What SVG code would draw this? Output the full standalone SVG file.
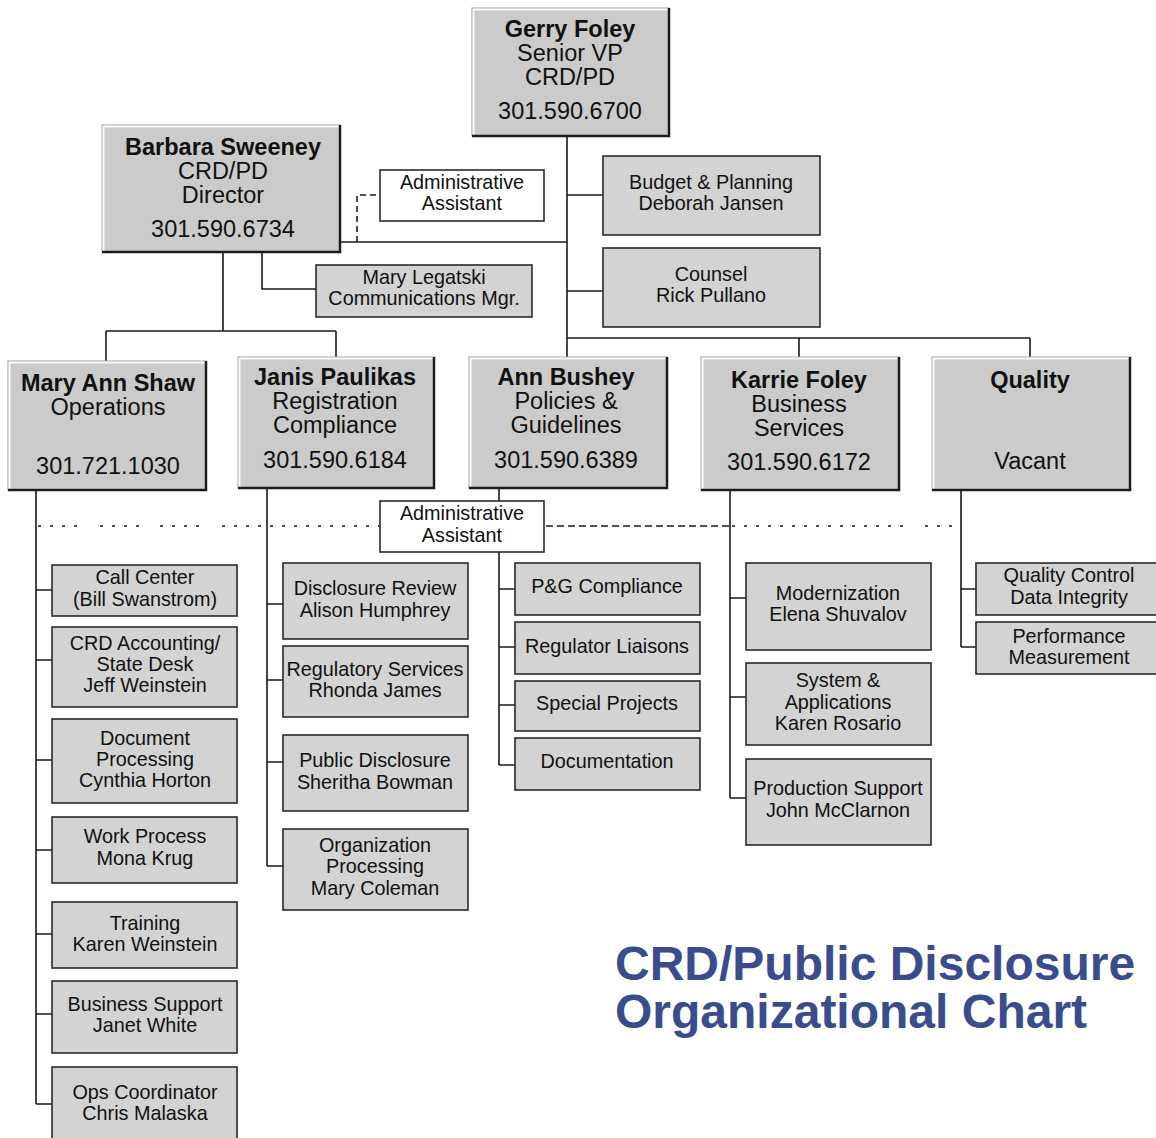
<svg xmlns="http://www.w3.org/2000/svg" width="1156" height="1138" viewBox="0 0 1156 1138">
<style>
text{font-family:"Liberation Sans",Arial,Helvetica,sans-serif;fill:#111;text-anchor:middle}
.t1{font-size:23.5px}
.b1{font-size:23.5px;font-weight:bold}
.t2{font-size:19.8px}
.bf{fill:#cbcbcb;stroke:#a0a0a0;stroke-width:1}
.hl{fill:none;stroke:#fafafa;stroke-width:2}
.sh{fill:none;stroke:#1c1c1c;stroke-width:2.5}
.sm{fill:#d3d3d3;stroke:#2a2a2a;stroke-width:1.6}
.wb{fill:#fff;stroke:#2a2a2a;stroke-width:1.6}
.ln{fill:none;stroke:#1a1a1a;stroke-width:1.6}
.ds{fill:none;stroke:#1a1a1a;stroke-width:1.6;stroke-dasharray:6 4}
.dt{fill:none;stroke:#1a1a1a;stroke-width:1.4;stroke-dasharray:3 9}
.dd{fill:none;stroke:#1a1a1a;stroke-width:1.6;stroke-dasharray:7 4}
.title{font-size:48px;font-weight:bold;fill:#3b4c8c;text-anchor:start}
</style>

<g id="connectors">
<path class="ln" d="M567 136V357M567 195H603M567 291H603M340 242H567M567 338H1030M799 338V357M1030 338V357"/>
<path class="ln" d="M223 252V331M106 331H336M106 331V361M336 331V357M262 252V289H316"/>
<path class="ds" d="M357 242V195H380"/>
<path class="ln" d="M36 490V1104M36 590H52M36 660H52M36 760H52M36 850H52M36 934H52M36 1014H52M36 1104H52"/>
<path class="ln" d="M267 488V866M267 604H283M267 680H283M267 762H283M267 866H283"/>
<path class="ln" d="M499 488V501M499 552V765M499 589H515M499 647H515M499 705H515M499 765H515"/>
<path class="ln" d="M730 490V798M730 598H746M730 697H746M730 798H746"/>
<path class="ln" d="M961 490V647M961 589H976M961 647H976"/>
<path class="dt" d="M38 526H80M100 526H142M160 526H204M222 526H380"/>
<path class="dd" d="M546 526H730"/>
<path class="dt" d="M732 526H905M925 526H961"/>
</g>

<g id="gerry">
<rect class="bf" x="472" y="8" width="197" height="128"/>
<path class="hl" d="M473.5 135V9.5H668"/>
<path class="sh" d="M472 136H669V8"/>
<text class="b1" x="570" y="37">Gerry Foley</text>
<text class="t1" x="570" y="61">Senior VP</text>
<text class="t1" x="570" y="85">CRD/PD</text>
<text class="t1" x="570" y="119">301.590.6700</text>
</g>

<g id="barbara">
<rect class="bf" x="102" y="125" width="238" height="127"/>
<path class="hl" d="M103.5 251V126.5H339"/>
<path class="sh" d="M102 252H340V125"/>
<text class="b1" x="223" y="155">Barbara Sweeney</text>
<text class="t1" x="223" y="179">CRD/PD</text>
<text class="t1" x="223" y="203">Director</text>
<text class="t1" x="223" y="237">301.590.6734</text>
</g>

<g id="admin1">
<rect class="wb" x="380" y="170" width="164" height="51"/>
<text class="t2" x="462" y="189">Administrative</text>
<text class="t2" x="462" y="210">Assistant</text>
</g>

<g id="budget">
<rect class="sm" x="603" y="156" width="217" height="79"/>
<text class="t2" x="711" y="189">Budget &amp; Planning</text>
<text class="t2" x="711" y="210">Deborah Jansen</text>
</g>

<g id="counsel">
<rect class="sm" x="603" y="248" width="217" height="79"/>
<text class="t2" x="711" y="281">Counsel</text>
<text class="t2" x="711" y="302">Rick Pullano</text>
</g>

<g id="legatski">
<rect class="sm" x="316" y="265" width="216" height="52"/>
<text class="t2" x="424" y="284">Mary Legatski</text>
<text class="t2" x="424" y="305">Communications Mgr.</text>
</g>

<g id="maryann">
<rect class="bf" x="8" y="361" width="198" height="129"/>
<path class="hl" d="M9.5 489V362.5H205"/>
<path class="sh" d="M8 490H206V361"/>
<text class="b1" x="108" y="391">Mary Ann Shaw</text>
<text class="t1" x="108" y="415">Operations</text>
<text class="t1" x="108" y="474">301.721.1030</text>
</g>

<g id="janis">
<rect class="bf" x="238" y="357" width="196" height="131"/>
<path class="hl" d="M239.5 487V358.5H433"/>
<path class="sh" d="M238 488H434V357"/>
<text class="b1" x="335" y="385">Janis Paulikas</text>
<text class="t1" x="335" y="409">Registration</text>
<text class="t1" x="335" y="433">Compliance</text>
<text class="t1" x="335" y="468">301.590.6184</text>
</g>

<g id="ann">
<rect class="bf" x="469" y="357" width="198" height="131"/>
<path class="hl" d="M470.5 487V358.5H666"/>
<path class="sh" d="M469 488H667V357"/>
<text class="b1" x="566" y="385">Ann Bushey</text>
<text class="t1" x="566" y="409">Policies &amp;</text>
<text class="t1" x="566" y="433">Guidelines</text>
<text class="t1" x="566" y="468">301.590.6389</text>
</g>

<g id="karrie">
<rect class="bf" x="701" y="357" width="198" height="133"/>
<path class="hl" d="M702.5 489V358.5H898"/>
<path class="sh" d="M701 490H899V357"/>
<text class="b1" x="799" y="388">Karrie Foley</text>
<text class="t1" x="799" y="412">Business</text>
<text class="t1" x="799" y="436">Services</text>
<text class="t1" x="799" y="470">301.590.6172</text>
</g>

<g id="quality">
<rect class="bf" x="932" y="357" width="198" height="133"/>
<path class="hl" d="M933.5 489V358.5H1129"/>
<path class="sh" d="M932 490H1130V357"/>
<text class="b1" x="1030" y="388">Quality</text>
<text class="t1" x="1030" y="469">Vacant</text>
</g>

<g id="admin2">
<rect class="wb" x="380" y="501" width="164" height="51"/>
<text class="t2" x="462" y="520">Administrative</text>
<text class="t2" x="462" y="542">Assistant</text>
</g>

<g id="callcenter">
<rect class="sm" x="52" y="565" width="185" height="51"/>
<text class="t2" x="145" y="584">Call Center</text>
<text class="t2" x="145" y="606">(Bill Swanstrom)</text>
</g>
<g id="accounting">
<rect class="sm" x="52" y="627" width="185" height="80"/>
<text class="t2" x="145" y="650">CRD Accounting/</text>
<text class="t2" x="145" y="671">State Desk</text>
<text class="t2" x="145" y="692">Jeff Weinstein</text>
</g>
<g id="docproc">
<rect class="sm" x="52" y="719" width="185" height="84"/>
<text class="t2" x="145" y="745">Document</text>
<text class="t2" x="145" y="766">Processing</text>
<text class="t2" x="145" y="787">Cynthia Horton</text>
</g>
<g id="workproc">
<rect class="sm" x="52" y="817" width="185" height="66"/>
<text class="t2" x="145" y="843">Work Process</text>
<text class="t2" x="145" y="865">Mona Krug</text>
</g>
<g id="training">
<rect class="sm" x="52" y="902" width="185" height="66"/>
<text class="t2" x="145" y="930">Training</text>
<text class="t2" x="145" y="951">Karen Weinstein</text>
</g>
<g id="bizsupport">
<rect class="sm" x="52" y="981" width="185" height="72"/>
<text class="t2" x="145" y="1011">Business Support</text>
<text class="t2" x="145" y="1032">Janet White</text>
</g>
<g id="opscoord">
<rect class="sm" x="52" y="1067" width="185" height="74"/>
<text class="t2" x="145" y="1099">Ops Coordinator</text>
<text class="t2" x="145" y="1120">Chris Malaska</text>
</g>

<g id="disclosure">
<rect class="sm" x="283" y="563" width="185" height="76"/>
<text class="t2" x="375" y="595">Disclosure Review</text>
<text class="t2" x="375" y="617">Alison Humphrey</text>
</g>
<g id="regservices">
<rect class="sm" x="283" y="646" width="185" height="71"/>
<text class="t2" x="375" y="676">Regulatory Services</text>
<text class="t2" x="375" y="697">Rhonda James</text>
</g>
<g id="pubdisclosure">
<rect class="sm" x="283" y="735" width="185" height="76"/>
<text class="t2" x="375" y="767">Public Disclosure</text>
<text class="t2" x="375" y="789">Sheritha Bowman</text>
</g>
<g id="orgproc">
<rect class="sm" x="283" y="829" width="185" height="81"/>
<text class="t2" x="375" y="852">Organization</text>
<text class="t2" x="375" y="873">Processing</text>
<text class="t2" x="375" y="895">Mary Coleman</text>
</g>

<g id="pgcompliance">
<rect class="sm" x="515" y="563" width="185" height="52"/>
<text class="t2" x="607" y="593">P&amp;G Compliance</text>
</g>
<g id="regliaisons">
<rect class="sm" x="515" y="622" width="185" height="52"/>
<text class="t2" x="607" y="653">Regulator Liaisons</text>
</g>
<g id="specialprojects">
<rect class="sm" x="515" y="681" width="185" height="50"/>
<text class="t2" x="607" y="710">Special Projects</text>
</g>
<g id="documentation">
<rect class="sm" x="515" y="738" width="185" height="52"/>
<text class="t2" x="607" y="768">Documentation</text>
</g>

<g id="modernization">
<rect class="sm" x="746" y="563" width="185" height="87"/>
<text class="t2" x="838" y="600">Modernization</text>
<text class="t2" x="838" y="621">Elena Shuvalov</text>
</g>
<g id="sysapps">
<rect class="sm" x="746" y="663" width="185" height="82"/>
<text class="t2" x="838" y="687">System &amp;</text>
<text class="t2" x="838" y="709">Applications</text>
<text class="t2" x="838" y="730">Karen Rosario</text>
</g>
<g id="prodsupport">
<rect class="sm" x="746" y="759" width="185" height="86"/>
<text class="t2" x="838" y="795">Production Support</text>
<text class="t2" x="838" y="817">John McClarnon</text>
</g>

<g id="qualitycontrol">
<rect class="sm" x="976" y="563" width="186" height="52"/>
<text class="t2" x="1069" y="582">Quality Control</text>
<text class="t2" x="1069" y="604">Data Integrity</text>
</g>
<g id="perfmeasure">
<rect class="sm" x="976" y="622" width="186" height="52"/>
<text class="t2" x="1069" y="643">Performance</text>
<text class="t2" x="1069" y="664">Measurement</text>
</g>

<g id="title">
<text class="title" x="615" y="980">CRD/Public Disclosure</text>
<text class="title" x="615" y="1028">Organizational Chart</text>
</g>
</svg>
